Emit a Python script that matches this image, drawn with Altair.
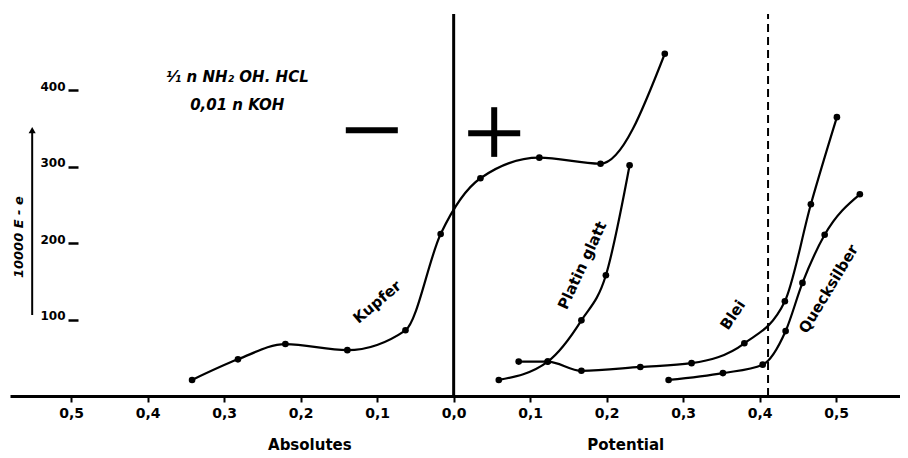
import altair as alt
import pandas as pd

# --- data (x: potential in V, negative = left side; y: 10000 E-e) ---
kupfer_x = [-0.342, -0.282, -0.220, -0.139, -0.063, -0.017, 0.035, 0.112, 0.192, 0.276]
kupfer_y = [21, 48, 68, 60, 86, 212, 285, 312, 304, 448]

platin_x = [0.059, 0.123, 0.167, 0.199, 0.230]
platin_y = [21, 45, 99, 158, 302]

blei_x = [0.085, 0.123, 0.167, 0.244, 0.311, 0.380, 0.433, 0.467, 0.501]
blei_y = [45, 45, 33, 38, 43, 69, 124, 251, 365]

queck_x = [0.281, 0.352, 0.404, 0.434, 0.456, 0.485, 0.531]
queck_y = [21, 30, 41, 85, 148, 211, 264]

x_ticks = [-0.5, -0.4, -0.3, -0.2, -0.1, 0.0, 0.1, 0.2, 0.3, 0.4, 0.5]
y_ticks = [100, 200, 300, 400]

curve_labels = ["Kupfer", "Platin glatt", "Blei", "Quecksilber"]
curve_label_x = [-0.100, 0.168, 0.365, 0.490]
curve_label_y = [123, 171, 106, 140]
curve_label_angle = [320, 295, 304, 301]

dashed_x = 0.411
zero_x = 0.0

FONT = "DejaVu Sans"

series = []
for name, xs, ys in [("Kupfer", kupfer_x, kupfer_y), ("Platin glatt", platin_x, platin_y),
                     ("Blei", blei_x, blei_y), ("Quecksilber", queck_x, queck_y)]:
    for xv, yv in zip(xs, ys):
        series.append({"curve": name, "x": xv, "y": yv})
df = pd.DataFrame(series)

xscale = alt.Scale(domain=[-0.58, 0.5835], nice=False, zero=False)
yscale = alt.Scale(domain=[0, 500], nice=False)

xaxis = alt.Axis(values=x_ticks, labelExpr="replace(format(abs(datum.value),'.1f'),'.',',')",
                 domainWidth=3, domainColor="black", tickColor="black", tickSize=6, tickWidth=2,
                 labelFont=FONT, labelFontSize=14, labelFontWeight="bold", labelColor="black",
                 labelPadding=4, grid=False, title=None)
yaxis = alt.Axis(values=y_ticks, format="d", domain=False, offset=-68, tickSize=10, tickWidth=2.5,
                 tickColor="black", labelFont=FONT, labelFontSize=12, labelFontWeight="bold",
                 labelColor="black", labelBaseline="alphabetic", labelPadding=3, grid=False, title=None)

base = alt.Chart(df)

lines = base.mark_line(color="black", strokeWidth=2.2, interpolate="monotone").encode(
    x=alt.X("x:Q", scale=xscale, axis=xaxis),
    y=alt.Y("y:Q", scale=yscale, axis=yaxis),
    detail="curve:N",
)
points = base.mark_circle(color="black", size=44, opacity=1).encode(x="x:Q", y="y:Q")

# vertical reference lines
vdf = pd.DataFrame({"x": [zero_x], "y": [0], "y2": [500]})
zero_line = alt.Chart(vdf).mark_rule(color="black", strokeWidth=3).encode(x="x:Q", y="y:Q", y2="y2:Q")
ddf = pd.DataFrame({"x": [dashed_x], "y": [0], "y2": [500]})
dash_line = alt.Chart(ddf).mark_rule(color="black", strokeWidth=2, strokeDash=[8, 5]).encode(
    x="x:Q", y="y:Q", y2="y2:Q")

# big minus and plus signs
signs_h = pd.DataFrame({"x": [-0.141, 0.019], "x2": [-0.073, 0.087], "y": [348, 344]})
signs_v = pd.DataFrame({"x": [0.053], "y": [313], "y2": [378]})
minus_plus_h = alt.Chart(signs_h).mark_rule(color="black", strokeWidth=6).encode(
    x="x:Q", x2="x2:Q", y="y:Q")
plus_v = alt.Chart(signs_v).mark_rule(color="black", strokeWidth=6).encode(
    x="x:Q", y="y:Q", y2="y2:Q")

# curve labels
ldf = pd.DataFrame({"t": curve_labels, "x": curve_label_x, "y": curve_label_y, "a": curve_label_angle})
labels = alt.Chart(ldf).mark_text(font=FONT, fontSize=15, fontWeight="bold", color="black").encode(
    x="x:Q", y="y:Q", text="t:N", angle=alt.Angle("a:Q", scale=None))

# solution text
sol = pd.DataFrame({"t": ["¹⁄₁ n NH₂ OH. HCL", "0,01 n KOH"], "x": [-0.283, -0.283], "y": [417, 381]})
sol_text = alt.Chart(sol).mark_text(font=FONT, fontSize=15, fontWeight="bold", fontStyle="italic",
                                    color="black").encode(x="x:Q", y="y:Q", text="t:N")

# axis titles below axis
at = pd.DataFrame({"t": ["Absolutes", "Potential"], "x": [-0.188, 0.225], "y": [-64, -64]})
axis_titles = alt.Chart(at).mark_text(font=FONT, fontSize=15, fontWeight="bold", color="black").encode(
    x="x:Q", y="y:Q", text="t:N")

# y-axis arrow and title
arr = pd.DataFrame({"x": [-0.551], "y": [106], "y2": [346]})
arrow_line = alt.Chart(arr).mark_rule(color="black", strokeWidth=2).encode(x="x:Q", y="y:Q", y2="y2:Q")
head = pd.DataFrame({"x": [-0.551], "y": [348]})
arrow_head = alt.Chart(head).mark_point(shape="triangle-up", filled=True, color="black", size=50,
                                        opacity=1).encode(x="x:Q", y="y:Q")
yt = pd.DataFrame({"t": ["10000 E - e"], "x": [-0.568], "y": [208]})
y_title = alt.Chart(yt).mark_text(font=FONT, fontSize=13, fontWeight="bold", fontStyle="italic",
                                  color="black", angle=270).encode(x="x:Q", y="y:Q", text="t:N")

chart = alt.layer(
    zero_line, dash_line, lines, points, minus_plus_h, plus_v, labels, sol_text, axis_titles,
    arrow_line, arrow_head, y_title
).properties(
    width=890, height=382, padding={"left": 2, "top": 4, "right": 0, "bottom": 0}, background="white"
).configure_view(stroke=None)

chart.save("out.html", embed_options={"renderer": "svg", "actions": False})
